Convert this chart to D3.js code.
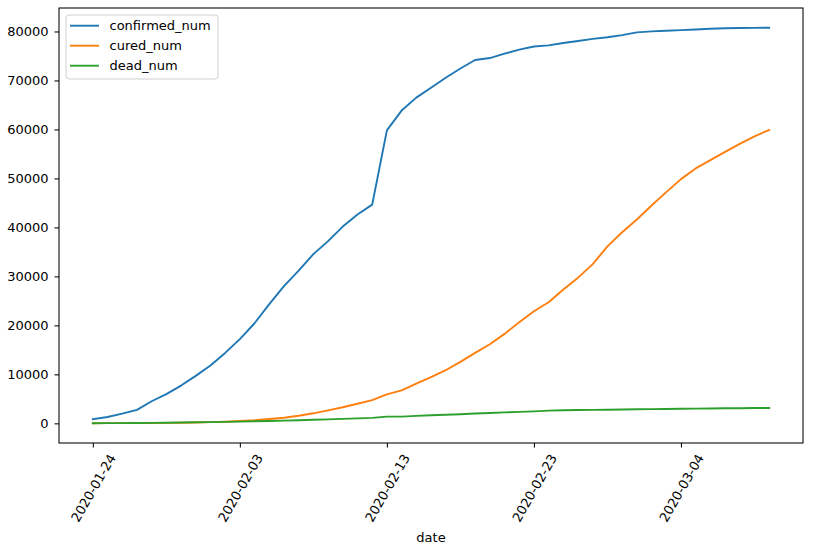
<!DOCTYPE html>
<html>
<head>
<meta charset="utf-8">
<script src="https://cdn.jsdelivr.net/npm/d3@7"></script>
<style>
  body { margin: 0; background: #fff; }
  svg { display: block; font-family: "DejaVu Sans", sans-serif; }
</style>
</head>
<body>
<svg id="chart" width="827" height="546"></svg>
<script>
const dates = [
  "2020-01-24","2020-01-25","2020-01-26","2020-01-27","2020-01-28","2020-01-29","2020-01-30","2020-01-31",
  "2020-02-01","2020-02-02","2020-02-03","2020-02-04","2020-02-05","2020-02-06","2020-02-07","2020-02-08",
  "2020-02-09","2020-02-10","2020-02-11","2020-02-12","2020-02-13","2020-02-14","2020-02-15","2020-02-16",
  "2020-02-17","2020-02-18","2020-02-19","2020-02-20","2020-02-21","2020-02-22","2020-02-23","2020-02-24",
  "2020-02-25","2020-02-26","2020-02-27","2020-02-28","2020-02-29","2020-03-01","2020-03-02","2020-03-03",
  "2020-03-04","2020-03-05","2020-03-06","2020-03-07","2020-03-08","2020-03-09","2020-03-10"
];
const confirmed_num = [
  830,1287,1975,2744,4515,5974,7711,9692,11791,14380,17205,20438,24324,28018,31161,34546,
  37198,40171,42638,44653,59804,63851,66492,68500,70548,72436,74185,74576,75465,76288,76936,77150,
  77658,78064,78497,78824,79251,79824,80026,80151,80270,80409,80552,80651,80695,80735,80754
];
const cured_num = [
  34,38,49,51,60,103,124,171,243,328,475,632,892,1153,1540,2050,
  2649,3281,3996,4740,5911,6723,8096,9419,10844,12552,14376,16155,18264,20659,22888,24734,
  27323,29745,32495,36117,39002,41625,44462,47204,49856,52045,53726,55404,57065,58600,59897
];
const dead_num = [
  25,41,56,80,106,132,170,213,259,304,361,425,490,563,636,722,
  811,908,1016,1113,1367,1380,1523,1665,1770,1868,2004,2118,2236,2345,2442,2592,
  2663,2715,2744,2788,2835,2870,2912,2943,2981,3012,3042,3070,3097,3119,3136
];
const seriesNames = ["confirmed_num", "cured_num", "dead_num"];
const seriesColors = ["#1f77b4", "#ff7f0e", "#2ca02c"];
const xTickLabels = ["2020-01-24","2020-02-03","2020-02-13","2020-02-23","2020-03-04"];
const yTicks = [0,10000,20000,30000,40000,50000,60000,70000,80000];
const xLabel = "date";

const FS = 13;
const svg = d3.select("#chart");
const mLeft = 59, mRight = 803, mTop = 8, mBottom = 443;

const n = dates.length;
const xPad = (n - 1) * 0.05;
const x = d3.scaleLinear().domain([-xPad, n - 1 + xPad]).range([mLeft, mRight]);
const allVals = confirmed_num.concat(cured_num, dead_num);
const yMin = d3.min(allVals), yMax = d3.max(allVals);
const yPad = (yMax - yMin) * 0.05;
const y = d3.scaleLinear().domain([yMin - yPad, yMax + yPad]).range([mBottom, mTop]);

const series = [confirmed_num, cured_num, dead_num];
const line = d3.line().x((d, i) => x(i)).y(d => y(d));

const plot = svg.append("g");
series.forEach((s, k) => {
  plot.append("path")
    .datum(s)
    .attr("fill", "none")
    .attr("stroke", seriesColors[k])
    .attr("stroke-width", 1.9)
    .attr("stroke-linejoin", "round")
    .attr("stroke-linecap", "square")
    .attr("d", line);
});

// Frame
svg.append("rect")
  .attr("x", mLeft).attr("y", mTop)
  .attr("width", mRight - mLeft).attr("height", mBottom - mTop)
  .attr("fill", "none").attr("stroke", "#000").attr("stroke-width", 1.05);

// Y axis
const yAxis = d3.axisLeft(y).tickValues(yTicks).tickFormat(d3.format("d")).tickSize(4.5).tickPadding(6);
const gy = svg.append("g").attr("transform", `translate(${mLeft},0)`).call(yAxis);
gy.select(".domain").remove();
gy.selectAll("text").attr("font-size", FS).attr("fill", "#000").attr("font-family", "DejaVu Sans, sans-serif");
gy.selectAll("line").attr("stroke", "#000").attr("stroke-width", 1.05);

// X axis
const tickIdx = xTickLabels.map(t => dates.indexOf(t));
const xAxis = d3.axisBottom(x).tickValues(tickIdx).tickFormat(i => dates[i]).tickSize(4.5);
const gx = svg.append("g").attr("transform", `translate(0,${mBottom})`).call(xAxis);
gx.select(".domain").remove();
gx.selectAll("line").attr("stroke", "#000").attr("stroke-width", 1.05);
gx.selectAll("text")
  .attr("font-size", FS).attr("fill", "#000").attr("font-family", "DejaVu Sans, sans-serif")
  .attr("text-anchor", "end")
  .attr("dy", 0).attr("y", 0)
  .each(function() {
    const L = this.getComputedTextLength();
    const asc = 0.729 * FS;
    const dx = 0.25 * L + 0.433 * asc;
    d3.select(this).attr("transform", `translate(${dx},${14.5}) rotate(-60)`);
  });

svg.append("text")
  .attr("x", (mLeft + mRight) / 2).attr("y", 542)
  .attr("text-anchor", "middle").attr("font-size", FS).attr("fill", "#000")
  .text(xLabel);

// Legend
const lg = svg.append("g");
lg.append("rect")
  .attr("x", 66).attr("y", 15).attr("width", 152).attr("height", 64)
  .attr("rx", 3).attr("fill", "#fff").attr("fill-opacity", 0.8)
  .attr("stroke", "#d0d0d0").attr("stroke-width", 1);
seriesNames.forEach((name, k) => {
  const ly = 25.7 + k * 20;
  lg.append("line").attr("x1", 70).attr("x2", 99).attr("y1", ly).attr("y2", ly)
    .attr("stroke", seriesColors[k]).attr("stroke-width", 1.9);
  lg.append("text").attr("x", 109.5).attr("y", ly + 4.5)
    .attr("font-size", FS).attr("fill", "#000").text(name);
});
</script>
</body>
</html>
